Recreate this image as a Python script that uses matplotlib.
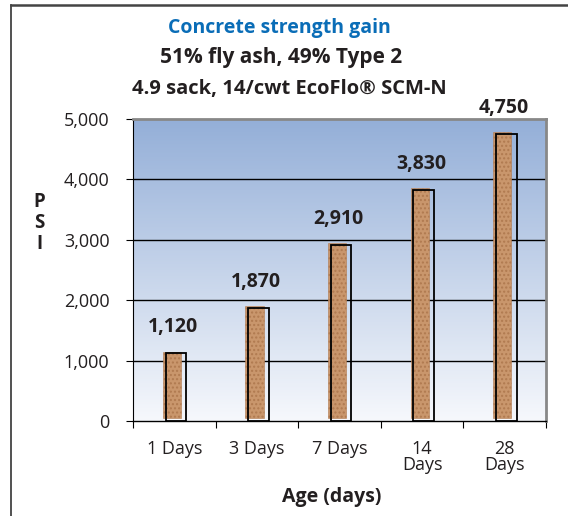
import numpy as np
import matplotlib
matplotlib.use("Agg")
import matplotlib.pyplot as plt
from matplotlib.colors import LinearSegmentedColormap

categories = ["1 Days", "3 Days", "7 Days", "14\nDays", "28\nDays"]
psi = [1120, 1870, 2910, 3830, 4750]
value_labels = ["1,120", "1,870", "2,910", "3,830", "4,750"]
yticks = [0, 1000, 2000, 3000, 4000, 5000]
ytick_labels = ["0", "1,000", "2,000", "3,000", "4,000", "5,000"]

plt.rcParams["font.family"] = ["Open Sans", "DejaVu Sans"]
plt.rcParams["hatch.color"] = "#a8774c"
dark = "#231f20"

fig = plt.figure(figsize=(5.68, 5.16), dpi=100)
ax = fig.add_axes([133 / 568, 1 - 421 / 516, 413 / 568, 302 / 516])

# outer frame (left + top only)
fig.add_artist(plt.Line2D([11 / 568, 11 / 568], [0, 1 - 5 / 516], color="#333333", lw=1.2))
fig.add_artist(plt.Line2D([11 / 568, 1], [1 - 5 / 516, 1 - 5 / 516], color="#444444", lw=1.8))

# gradient background
cmap = LinearSegmentedColormap.from_list("bg", ["#f6f8fc", "#94afd8"])
grad = np.linspace(0, 1, 256).reshape(-1, 1)
ax.imshow(grad, cmap=cmap, aspect="auto", origin="lower",
          extent=[-0.5, 4.5, 0, 5000], zorder=0)

x = np.arange(len(psi))
ax.set_xlim(-0.5, 4.5)
ax.set_ylim(0, 5000)

for y in yticks[1:-1]:
    ax.axhline(y, color="black", lw=1.0, zorder=1)

# brown fill, slightly offset from the outline
ax.bar(x - 0.03, np.array(psi) - 20, bottom=50, width=0.22, color="#c9966c",
       edgecolor="#b07a50", lw=0.4, hatch="....", zorder=2)
ax.bar(x + 0.02, psi, width=0.25, facecolor="none", edgecolor="black",
       lw=1.3, zorder=3)

for xi, v, lab in zip(x, psi, value_labels):
    ax.text(xi - 0.01, v + 430, lab, ha="center", va="center", fontsize=14,
            fontweight="bold", color=dark, zorder=4)

ax.set_yticks(yticks)
ax.set_yticklabels(ytick_labels, fontsize=13, color=dark)
ax.set_xticks(x)
ax.set_xticklabels(categories, fontsize=13, color=dark, linespacing=0.8,
                   va="top")
ax.tick_params(axis="x", length=0, pad=14)
ax.set_xticks(np.arange(-0.5, 5, 1), minor=True)
ax.tick_params(axis="x", which="minor", length=5, direction="out", width=0.8)
ax.tick_params(axis="y", length=5, direction="out", width=0.8, pad=12)

for s in ["top", "right"]:
    ax.spines[s].set_color("#888888")
    ax.spines[s].set_linewidth(2)
ax.spines["left"].set_linewidth(0.8)
ax.spines["bottom"].set_linewidth(1.0)

fig.text(279 / 568, 1 - 28 / 516, "Concrete strength gain", ha="center",
         va="center", fontsize=14, fontweight="bold", color="#0a6db7")
fig.text(281 / 568, 1 - 58 / 516, "51% fly ash, 49% Type 2", ha="center",
         va="center", fontsize=15, fontweight="bold", color=dark)
fig.text(289 / 568, 1 - 89 / 516, "4.9 sack, 14/cwt EcoFlo\u00ae SCM-N",
         ha="center", va="center", fontsize=14.5, fontweight="bold", color=dark)

fig.text(39 / 568, 1 - 223 / 516, "P\nS\nI", ha="center", va="center",
         fontsize=13.5, fontweight="bold", color=dark, linespacing=1.05)
fig.text(332 / 568, 1 - 497 / 516, "Age (days)", ha="center", va="center",
         fontsize=14, fontweight="bold", color=dark)

fig.savefig("out.png", dpi=100)
